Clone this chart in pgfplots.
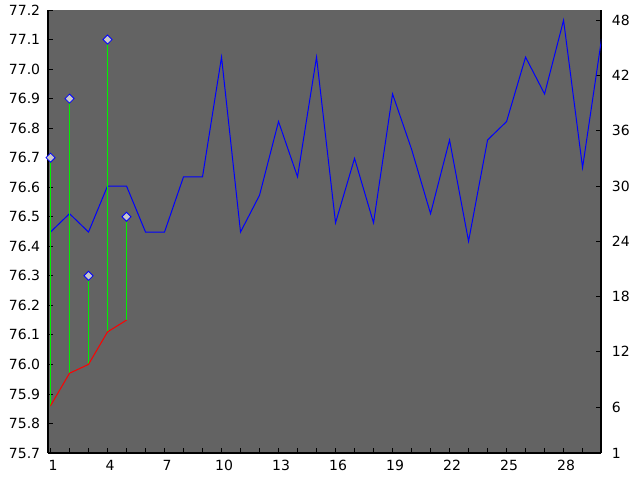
\documentclass[border=0pt]{standalone}
\usepackage{fontspec}
\setmainfont{DejaVu Sans}
\usepackage{pgfplots}
\pgfplotsset{compat=1.18}
\definecolor{bg}{RGB}{99,99,99}
\definecolor{stem}{RGB}{0,240,0}
\definecolor{mk}{RGB}{200,200,200}
\pgfplotsset{
  common/.style={
    scale only axis, width=553pt, height=443pt,
    at={(48pt,27pt)}, anchor=south west,
    xmin=0.868, xmax=29.97,
    tick align=inside,
    major tick length=5pt, minor tick length=5pt,
    every tick/.style={black, line width=0.8pt},
    axis line style={-, black, line width=1.5pt},
    /pgf/number format/assume math mode=true,
  }
}
\begin{document}
\fontsize{14}{17}\selectfont
\begin{tikzpicture}[x=1pt,y=1pt]
\path[use as bounding box] (0,0) rectangle (640,480);
% right axis: background and blue series
\begin{axis}[common,
  axis background/.style={fill=bg},
  axis x line=none, axis y line*=right,
  ymin=1, ymax=49.12,
  ytick={1,6,12,18,24,30,36,42,48},
  yticklabel style={xshift=6pt},
]
\addplot[blue, line width=1pt] coordinates {
  (1,25) (2,27) (3,25) (4,30) (5,30) (6,25) (7,25) (8,31) (9,31) (10,44)
  (11,25) (12,29) (13,37) (14,31) (15,44) (16,26) (17,33) (18,26) (19,40) (20,34)
  (21,27) (22,35) (23,24) (24,35) (25,37) (26,44) (27,40) (28,48) (29,32) (30,46)
};
\end{axis}
% left axis: red series, stems and diamonds
\begin{axis}[common,
  axis x line*=bottom, axis y line*=left,
  ymin=75.7, ymax=77.2,
  xtick={1,4,...,28}, minor xtick={1,...,30},
  ytick={75.7,75.8,75.9,76.0,76.1,76.2,76.3,76.4,76.5,76.6,76.7,76.8,76.9,77.0,77.1,77.2},
  yticklabel style={xshift=-3pt, /pgf/number format/.cd, fixed, fixed zerofill, precision=1},
  xticklabel style={xshift=2.5pt, yshift=-2.5pt},
  unbounded coords=jump,
]
\addplot[stem, line width=1pt] coordinates {
  (1,75.86) (1,76.7) (1,nan)
  (2,75.97) (2,76.9) (2,nan)
  (3,76.0) (3,76.3) (3,nan)
  (4,76.11) (4,77.1) (4,nan)
  (5,76.15) (5,76.5)
};
\addplot[red, line width=1pt] coordinates {
  (1,75.86) (2,75.97) (3,76.0) (4,76.11) (5,76.15)
};
\addplot[only marks, mark=square*, mark size=3.2pt,
  mark options={rotate=45, fill=mk, draw=blue, line width=0.8pt}] coordinates {
  (1,76.7) (2,76.9) (3,76.3) (4,77.1) (5,76.5)
};
\end{axis}
\end{tikzpicture}
\end{document}
